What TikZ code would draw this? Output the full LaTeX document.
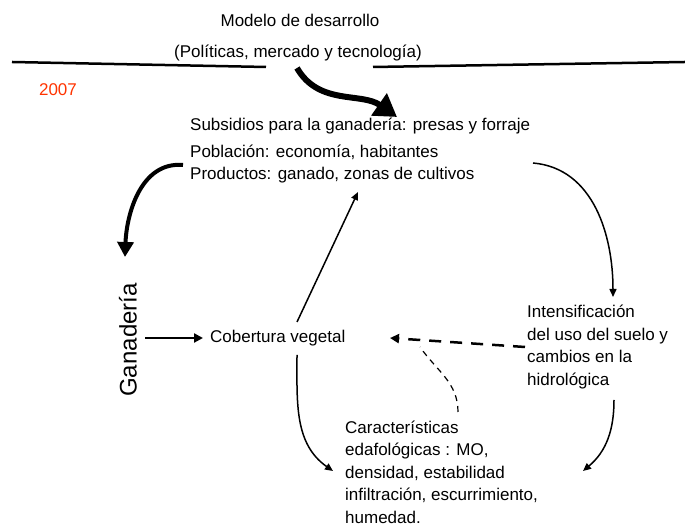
\documentclass[tikz,border=0pt]{standalone}
\usepackage{fontspec}
\setmainfont{Liberation Sans}
\usepackage{tikz}
\usetikzlibrary{arrows.meta}
\usepackage{xcolor}
\definecolor{rojo}{HTML}{FF3300}
\tikzset{texto/.style={anchor=west, inner sep=0pt, align=left, font=\fontsize{17}{22.5}\selectfont}}

\begin{document}
\begin{tikzpicture}[x=1pt, y=1pt]
						\useasboundingbox (0, 0) rectangle (685, 529);
						\node[texto, anchor=center] (modelo) at (300, 509) {Modelo de desarrollo};
						\node[texto, anchor=center] (politicas) at (298, 476) {(Políticas, mercado y tecnología)};
						\draw[line width=2.5pt] (12, 467) -- (266, 462);
						\draw[line width=2.5pt] (373, 462) -- (685, 467);
						\node[texto, anchor=center, color=rojo] (anio) at (58, 439) {2007};
						\node[texto] (subsidios) at (190, 403) {Subsidios para la ganadería: presas y forraje};
						\node[texto] (poblacion) at (190, 365) {Población: economía, habitantes\\Productos: ganado, zonas de cultivos};
						\node[texto, anchor=center, rotate=90, font=\fontsize{24}{28}\selectfont] (ganaderia) at (128, 189) {Ganadería};
						\node[texto] (cobertura) at (210, 191) {Cobertura vegetal};
						\node[texto] (intensificacion) at (527, 182) {Intensificación\\del uso del suelo y\\cambios en la\\hidrológica};
						\node[texto] (caracteristicas) at (345, 57) {Características\\edafológicas : MO,\\densidad, estabilidad\\infiltración, escurrimiento,\\humedad.};
						\coordinate (m1) at (297, 461);
						\coordinate (m2) at (397, 412);
						\coordinate (p1) at (183, 364);
						\coordinate (p2) at (125, 272);
						\coordinate (p3) at (533, 366);
						\coordinate (p4) at (613, 232);
						\coordinate (c1) at (297, 207);
						\coordinate (c2) at (358, 337);
						\coordinate (c3) at (297, 174);
						\coordinate (c4) at (333, 58);
						\coordinate (g1) at (145, 191);
						\coordinate (g2) at (203, 191);
						\coordinate (i1) at (525, 182);
						\coordinate (i2) at (390, 191);
						\coordinate (i3) at (614, 129);
						\coordinate (i4) at (583, 58);
						\coordinate (e1) at (458, 117);
						\coordinate (e2) at (420, 182);
						\draw[line width=6pt, -{Triangle[length=22pt, width=26pt]}] (m1) to[out=-60, in=145] (m2);
						\draw[line width=4pt, -{Triangle[length=15pt, width=16pt]}] (p1) to[out=175, in=88] (p2);
						\draw[line width=1.5pt, -{Triangle[length=8pt, width=7pt]}] (c1) -- (c2);
						\draw[line width=1.5pt, -{Triangle[length=8pt, width=7pt]}] (p3) to[out=-5, in=90] (p4);
						\draw[line width=1.5pt, -{Triangle[length=8pt, width=7pt]}] (c3) to[out=-90, in=145] (c4);
						\draw[line width=1.5pt, -{Triangle[length=8pt, width=7pt]}] (i3) to[out=-90, in=40] (i4);
						\draw[line width=2.5pt, -{Triangle[length=9pt, width=9pt]}] (g1) -- (g2);
						\draw[line width=2.5pt, dash pattern=on 12pt off 9pt, -{Triangle[length=9pt, width=9pt]}] (i1) -- (i2);
						\draw[line width=1.2pt, dash pattern=on 6pt off 5pt] (e1) to[out=90, in=-55] (e2);
					\end{tikzpicture}
\end{document}
